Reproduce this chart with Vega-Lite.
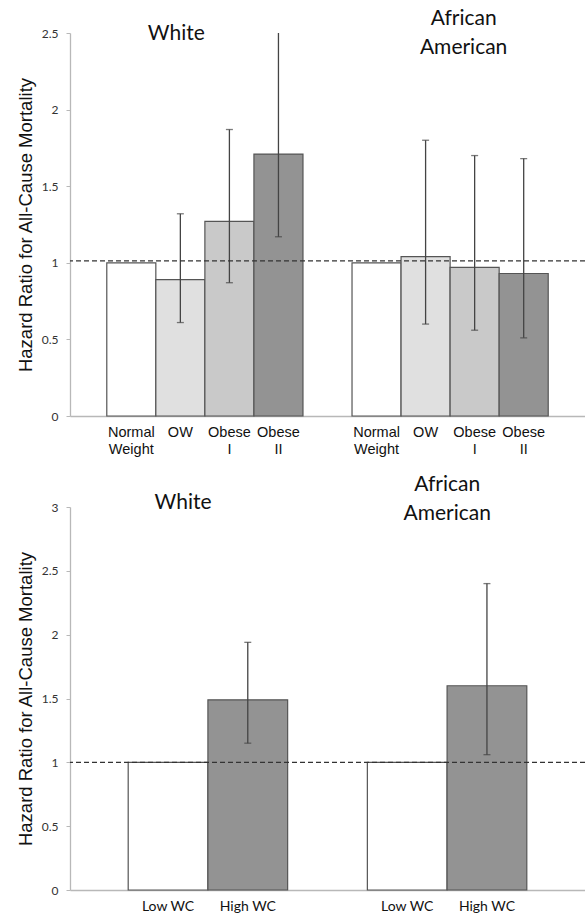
{
  "$schema": "https://vega.github.io/schema/vega-lite/v6.json",
  "background": "white",
  "padding": {"left": 16, "top": 7, "right": 0, "bottom": 0},
  "spacing": 17,
  "resolve": {"scale": {"color": "independent"}},
  "config": {
    "view": {"stroke": null},
    "axis": {"grid": false}
  },
  "datasets": {
    "bmi": [
      {"key": "W1", "cls": "NW", "hr": 1.0, "lo": null, "hi": null},
      {"key": "W2", "cls": "OW", "hr": 0.89, "lo": 0.61, "hi": 1.32},
      {"key": "W3", "cls": "Ob1", "hr": 1.27, "lo": 0.87, "hi": 1.87},
      {"key": "W4", "cls": "Ob2", "hr": 1.71, "lo": 1.17, "hi": 2.6},
      {"key": "A1", "cls": "NW", "hr": 1.0, "lo": null, "hi": null},
      {"key": "A2", "cls": "OW", "hr": 1.04, "lo": 0.6, "hi": 1.8},
      {"key": "A3", "cls": "Ob1", "hr": 0.97, "lo": 0.56, "hi": 1.7},
      {"key": "A4", "cls": "Ob2", "hr": 0.93, "lo": 0.51, "hi": 1.68}
    ],
    "wc": [
      {"key": "W1", "cls": "Low", "hr": 1.0, "lo": null, "hi": null},
      {"key": "W2", "cls": "High", "hr": 1.49, "lo": 1.15, "hi": 1.94},
      {"key": "A1", "cls": "Low", "hr": 1.0, "lo": null, "hi": null},
      {"key": "A2", "cls": "High", "hr": 1.6, "lo": 1.06, "hi": 2.4}
    ]
  },
  "vconcat": [
    {
      "width": 515,
      "height": 383,
      "encoding": {
        "x": {
          "field": "key", "type": "nominal",
          "scale": {"domain": ["W1","W2","W3","W4","gap","A1","A2","A3","A4"], "paddingInner": 0, "paddingOuter": 0.75},
          "axis": {
            "title": null, "labelAngle": 0, "ticks": false, "domainColor": "#b8b8b8", "domainWidth": 1.3,
            "labelFont": "Liberation Sans", "labelFontSize": 14.5, "labelColor": "#111", "labelLineHeight": 17,
            "labelBaseline": "top", "labelPadding": 9,
            "labelExpr": "datum.value == 'gap' ? '' : (indexof(['W1','A1'], datum.value) >= 0 ? ['Normal','Weight'] : (indexof(['W2','A2'], datum.value) >= 0 ? 'OW' : (indexof(['W3','A3'], datum.value) >= 0 ? ['Obese','I'] : ['Obese','II'])))"
          }
        }
      },
      "layer": [
        {
          "data": {"name": "bmi"},
          "mark": {"type": "bar", "stroke": "#555", "strokeWidth": 1.2},
          "encoding": {
            "y": {
              "field": "hr", "type": "quantitative",
              "scale": {"domain": [0, 2.5], "nice": false},
              "axis": {
                "title": "Hazard Ratio for All-Cause Mortality", "values": [0, 0.5, 1, 1.5, 2, 2.5], "format": "~g",
                "domainColor": "#b8b8b8", "domainWidth": 1.3, "tickColor": "#b8b8b8", "tickSize": 4,
                "labelFont": "Lato", "labelFontSize": 12, "labelColor": "#333", "labelPadding": 8,
                "titleFont": "Liberation Sans", "titleFontSize": 18.5, "titleFontWeight": "normal", "titleColor": "#111", "titlePadding": 6
              }
            },
            "color": {
              "field": "cls", "type": "nominal", "legend": null,
              "scale": {"domain": ["NW","OW","Ob1","Ob2"], "range": ["#ffffff","#e0e0e0","#c9c9c9","#939393"]}
            }
          }
        },
        {
          "data": {"name": "bmi"},
          "transform": [{"filter": "isValid(datum.lo)"}],
          "mark": {"type": "rule", "color": "#444", "strokeWidth": 1.3, "clip": true},
          "encoding": {
            "y": {"field": "lo", "type": "quantitative"},
            "y2": {"field": "hi"}
          }
        },
        {
          "data": {"name": "bmi"},
          "transform": [{"filter": "isValid(datum.lo)"}],
          "mark": {"type": "tick", "color": "#444", "size": 7, "thickness": 1.3, "clip": true},
          "encoding": {"y": {"field": "lo", "type": "quantitative"}}
        },
        {
          "data": {"name": "bmi"},
          "transform": [{"filter": "isValid(datum.lo)"}],
          "mark": {"type": "tick", "color": "#444", "size": 7, "thickness": 1.3, "clip": true},
          "encoding": {"y": {"field": "hi", "type": "quantitative"}}
        },
        {
          "data": {"values": [{"ref": 1.013}]},
          "mark": {"type": "rule", "color": "#333", "strokeWidth": 1.2, "strokeDash": [5, 3]},
          "encoding": {"y": {"field": "ref", "type": "quantitative"}, "x": null}
        },
        {
          "data": {"values": [{"key": "W2", "ty": 2.5, "txt": "White"}]},
          "mark": {"type": "text", "font": "Lato", "fontSize": 21, "color": "#111", "dx": -4, "dy": 1, "baseline": "middle"},
          "encoding": {"y": {"field": "ty", "type": "quantitative"}, "text": {"field": "txt"}}
        },
        {
          "data": {"values": [{"key": "A3", "ty": 2.5, "txt": ["African", "American"]}]},
          "mark": {"type": "text", "font": "Lato", "fontSize": 21, "color": "#111", "dx": -11, "dy": -14.5, "baseline": "middle", "lineHeight": 29},
          "encoding": {"y": {"field": "ty", "type": "quantitative"}, "text": {"field": "txt"}}
        }
      ]
    },
    {
      "width": 515,
      "height": 383,
      "encoding": {
        "x": {
          "field": "key", "type": "nominal",
          "scale": {"domain": ["W1","W2","gap","A1","A2"], "paddingInner": 0, "paddingOuter": 0.73},
          "axis": {
            "title": null, "labelAngle": 0, "ticks": false, "domainColor": "#b8b8b8", "domainWidth": 1.3,
            "labelFont": "Lato", "labelFontSize": 14, "labelColor": "#111",
            "labelBaseline": "top", "labelPadding": 9,
            "labelExpr": "datum.value == 'gap' ? '' : (indexof(['W1','A1'], datum.value) >= 0 ? 'Low WC' : 'High WC')"
          }
        }
      },
      "layer": [
        {
          "data": {"name": "wc"},
          "mark": {"type": "bar", "stroke": "#555", "strokeWidth": 1.2},
          "encoding": {
            "y": {
              "field": "hr", "type": "quantitative",
              "scale": {"domain": [0, 3], "nice": false},
              "axis": {
                "title": "Hazard Ratio for All-Cause Mortality", "values": [0, 0.5, 1, 1.5, 2, 2.5, 3], "format": "~g",
                "domainColor": "#b8b8b8", "domainWidth": 1.3, "tickColor": "#b8b8b8", "tickSize": 4,
                "labelFont": "Lato", "labelFontSize": 12, "labelColor": "#333", "labelPadding": 8,
                "titleFont": "Liberation Sans", "titleFontSize": 18.5, "titleFontWeight": "normal", "titleColor": "#111", "titlePadding": 6
              }
            },
            "color": {
              "field": "cls", "type": "nominal", "legend": null,
              "scale": {"domain": ["Low","High"], "range": ["#ffffff","#939393"]}
            }
          }
        },
        {
          "data": {"name": "wc"},
          "transform": [{"filter": "isValid(datum.lo)"}],
          "mark": {"type": "rule", "color": "#444", "strokeWidth": 1.3, "clip": true},
          "encoding": {
            "y": {"field": "lo", "type": "quantitative"},
            "y2": {"field": "hi"}
          }
        },
        {
          "data": {"name": "wc"},
          "transform": [{"filter": "isValid(datum.lo)"}],
          "mark": {"type": "tick", "color": "#444", "size": 7, "thickness": 1.3, "clip": true},
          "encoding": {"y": {"field": "lo", "type": "quantitative"}}
        },
        {
          "data": {"name": "wc"},
          "transform": [{"filter": "isValid(datum.lo)"}],
          "mark": {"type": "tick", "color": "#444", "size": 7, "thickness": 1.3, "clip": true},
          "encoding": {"y": {"field": "hi", "type": "quantitative"}}
        },
        {
          "data": {"values": [{"ref": 1.0}]},
          "mark": {"type": "rule", "color": "#333", "strokeWidth": 1.2, "strokeDash": [5, 3]},
          "encoding": {"y": {"field": "ref", "type": "quantitative"}, "x": null}
        },
        {
          "data": {"values": [{"key": "W1", "ty": 3, "txt": "White"}]},
          "mark": {"type": "text", "font": "Lato", "fontSize": 21, "color": "#111", "dx": 15, "dy": -4, "baseline": "middle"},
          "encoding": {"y": {"field": "ty", "type": "quantitative"}, "text": {"field": "txt"}}
        },
        {
          "data": {"values": [{"key": "A1", "ty": 3, "txt": ["African", "American"]}]},
          "mark": {"type": "text", "font": "Lato", "fontSize": 21, "color": "#111", "dx": 40, "dy": -22.5, "baseline": "middle", "lineHeight": 29},
          "encoding": {"y": {"field": "ty", "type": "quantitative"}, "text": {"field": "txt"}}
        }
      ]
    }
  ]
}
